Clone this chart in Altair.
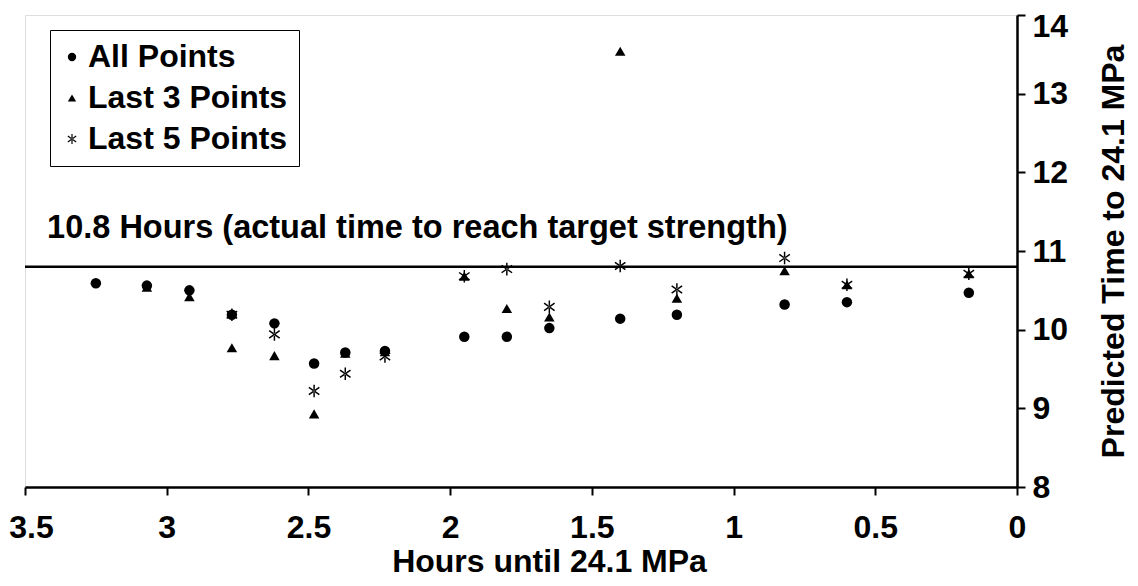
import altair as alt
import pandas as pd

# ---- data ----
hours = [3.25, 3.07, 2.92, 2.77, 2.62, 2.48, 2.37, 2.23, 1.95, 1.80, 1.65, 1.40, 1.20, 0.82, 0.60, 0.17]
all_points = [10.59, 10.56, 10.50, 10.19, 10.08, 9.57, 9.71, 9.73, 9.91, 9.91, 10.02, 10.14, 10.19, 10.32, 10.35, 10.47]
last3_points = [None, 10.54, 10.42, 9.77, 9.67, 8.93, 9.70, 9.72, 10.68, 10.27, 10.16, 13.54, 10.40, 10.75, 10.57, 10.71]
last5_points = [None, None, None, 10.19, 9.94, 9.22, 9.44, 9.66, 10.68, 10.77, 10.29, 10.81, 10.51, 10.91, 10.57, 10.71]

series_names = ["All Points", "Last 3 Points", "Last 5 Points"]
x_ticks = [3.5, 3, 2.5, 2, 1.5, 1, 0.5, 0]
y_ticks = [8, 9, 10, 11, 12, 13, 14]
target_value = 10.8
annotation_text = "10.8 Hours (actual time to reach target strength)"
annotation_hours = 3.422
annotation_pred = 11.165

rows = []
for name, vals in zip(series_names, [all_points, last3_points, last5_points]):
    for h, v in zip(hours, vals):
        if v is not None:
            rows.append({"hours": h, "predicted": v, "series": name})
df = pd.DataFrame(rows)

FONT = "Liberation Sans"
FS = 32
# asterisk made of three thin filled bars (vertical + two diagonals)
STAR = ("M-0.14,-1.2L0.14,-1.2L0.14,1.2L-0.14,1.2Z"
        "M-1.08,-0.585L0.92,0.815L1.08,0.585L-0.92,-0.815Z"
        "M-0.92,0.815L1.08,-0.585L0.92,-0.815L-1.08,0.585Z")

x_scale = alt.Scale(domain=[0, 3.5], reverse=True, nice=False, zero=False)
y_scale = alt.Scale(domain=[8, 14], nice=False, zero=False)

x_axis = alt.Axis(
    values=x_ticks, format="~g", grid=False, labelFlush=False,
    title="Hours until 24.1 MPa", titleFont=FONT, titleFontSize=FS, titleFontWeight="bold",
    titleColor="black", titleX=524, titleY=84, titleAlign="center", titleBaseline="alphabetic",
    labelFont=FONT, labelFontSize=FS, labelFontWeight="bold", labelColor="black",
    labelPadding=17, labelOffset={"condition": {"test": "datum.value == 3.5", "value": 6}, "value": 0},
    tickSize=8, tickWidth=2, tickColor="black", domainColor="black", domainWidth=2.5,
)
y_axis = alt.Axis(
    orient="right", values=y_ticks, format="d", grid=False, labelFlush=False,
    title="Predicted Time to 24.1 MPa", titleFont=FONT, titleFontSize=FS, titleFontWeight="bold",
    titleColor="black", titleAngle=270, titleX=106, titleY=236, titleAlign="center",
    titleBaseline="alphabetic",
    labelFont=FONT, labelFontSize=FS, labelFontWeight="bold", labelColor="black",
    labelPadding=7, labelOffset={"condition": {"test": "datum.value == 14", "value": 11}, "value": 0},
    tickSize=8, tickWidth=2, tickColor="black", domainColor="black", domainWidth=2.5,
)

points = alt.Chart(df).mark_point(
    filled=True, color="black", opacity=1, size=110
).encode(
    x=alt.X("hours:Q", scale=x_scale, axis=x_axis),
    y=alt.Y("predicted:Q", scale=y_scale, axis=y_axis),
    shape=alt.Shape(
        "series:N",
        scale=alt.Scale(domain=series_names, range=["circle", "triangle-up", STAR]),
        legend=alt.Legend(
            orient="none", legendX=25, legendY=15, title=None,
            labelFont=FONT, labelFontSize=FS, labelFontWeight="bold", labelColor="black",
            labelLimit=400,
            strokeColor="black", fillColor="white", padding=11,
            symbolSize=70, symbolOffset=-5, labelOffset=0, rowPadding=9,
            symbolFillColor="black", symbolStrokeWidth=0,
        ),
    ),
)

rule = alt.Chart(pd.DataFrame({"predicted": [target_value]})).mark_rule(
    color="black", strokeWidth=2.5
).encode(y=alt.Y("predicted:Q", scale=y_scale))

label = alt.Chart(pd.DataFrame({
    "hours": [annotation_hours], "predicted": [annotation_pred], "text": [annotation_text]
})).mark_text(
    align="left", baseline="alphabetic", font=FONT, fontSize=32.5, fontWeight="bold", color="black"
).encode(
    x=alt.X("hours:Q", scale=x_scale),
    y=alt.Y("predicted:Q", scale=y_scale),
    text="text:N",
)

chart = alt.layer(rule, points, label).properties(
    width=992, height=472,
    autosize=alt.AutoSizeParams(type="none"),
    padding={"left": 17, "top": 7, "right": 113, "bottom": 91},
).configure_view(stroke="black", strokeWidth=2).configure_legend(strokeWidth=2).configure(background="white")

chart.save("out.html", embed_options={"renderer": "svg", "actions": False})
